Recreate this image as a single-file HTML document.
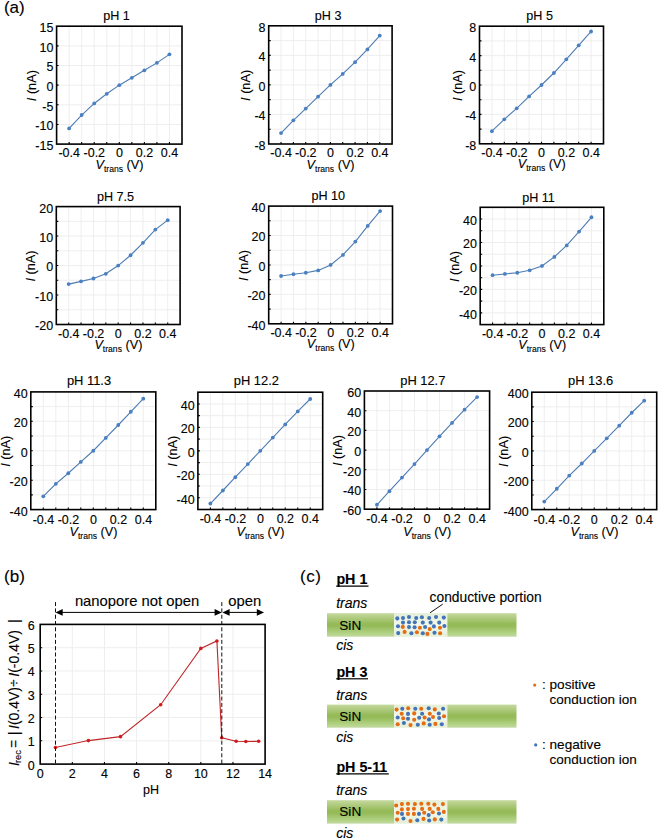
<!DOCTYPE html><html><head><meta charset="utf-8"><style>html,body{margin:0;padding:0;background:#fff;}svg{display:block;}text{font-family:"Liberation Sans", sans-serif;fill:#000;stroke:#000;stroke-width:0.12px;}</style></head><body>
<svg width="658" height="838" viewBox="0 0 658 838">
<rect width="658" height="838" fill="#fff"/>
<text x="3.9" y="12.8" font-size="17">(a)</text>
<path d="M69.14 26.2V144.1M81.68 26.2V144.1M94.22 26.2V144.1M106.76 26.2V144.1M119.3 26.2V144.1M131.84 26.2V144.1M144.38 26.2V144.1M156.92 26.2V144.1M169.46 26.2V144.1M56.6 124.45H182M56.6 104.8H182M56.6 85.15H182M56.6 65.5H182M56.6 45.85H182" stroke="#ececec" stroke-width="0.9" fill="none"/>
<path d="M69.14 144.1v-2M81.68 144.1v-2M94.22 144.1v-2M106.76 144.1v-2M119.3 144.1v-2M131.84 144.1v-2M144.38 144.1v-2M156.92 144.1v-2M169.46 144.1v-2M56.6 124.45h2M56.6 104.8h2M56.6 85.15h2M56.6 65.5h2M56.6 45.85h2" stroke="#000" stroke-width="1.1" fill="none"/>
<polyline points="69.14,128.38 81.68,115.02 94.22,103.46 106.76,93.8 119.3,85.15 131.84,77.84 144.38,70.33 156.92,62.87 169.46,54.34" stroke="#4d7cb3" stroke-width="1.1" fill="none"/>
<circle cx="69.14" cy="128.38" r="1.9" fill="#4a80c2"/>
<circle cx="81.68" cy="115.02" r="1.9" fill="#4a80c2"/>
<circle cx="94.22" cy="103.46" r="1.9" fill="#4a80c2"/>
<circle cx="106.76" cy="93.8" r="1.9" fill="#4a80c2"/>
<circle cx="119.3" cy="85.15" r="1.9" fill="#4a80c2"/>
<circle cx="131.84" cy="77.84" r="1.9" fill="#4a80c2"/>
<circle cx="144.38" cy="70.33" r="1.9" fill="#4a80c2"/>
<circle cx="156.92" cy="62.87" r="1.9" fill="#4a80c2"/>
<circle cx="169.46" cy="54.34" r="1.9" fill="#4a80c2"/>
<rect x="56.6" y="26.2" width="125.4" height="117.9" fill="none" stroke="#000" stroke-width="1.6"/>
<text x="53.4" y="150" text-anchor="end" font-size="12.5">-15</text>
<text x="53.4" y="130.35" text-anchor="end" font-size="12.5">-10</text>
<text x="53.4" y="110.7" text-anchor="end" font-size="12.5">-5</text>
<text x="53.4" y="91.05" text-anchor="end" font-size="12.5">0</text>
<text x="53.4" y="71.4" text-anchor="end" font-size="12.5">5</text>
<text x="53.4" y="51.75" text-anchor="end" font-size="12.5">10</text>
<text x="53.4" y="32.1" text-anchor="end" font-size="12.5">15</text>
<text x="69.24" y="157.1" text-anchor="middle" font-size="12.5">-0.4</text>
<text x="94.32" y="157.1" text-anchor="middle" font-size="12.5">-0.2</text>
<text x="119.4" y="157.1" text-anchor="middle" font-size="12.5">0</text>
<text x="144.48" y="157.1" text-anchor="middle" font-size="12.5">0.2</text>
<text x="169.56" y="157.1" text-anchor="middle" font-size="12.5">0.4</text>
<text x="116.5" y="20.2" text-anchor="middle" font-size="12.6">pH 1</text>
<text x="119.5" y="168.7" text-anchor="middle" font-size="12.7"><tspan font-style="italic">V</tspan><tspan font-size="8.6" dy="3">trans</tspan><tspan dy="-3"> (V)</tspan></text>
<text transform="translate(35.5 85.65) rotate(-90)" text-anchor="middle" font-size="12.7"><tspan font-style="italic">I</tspan> (nA)</text>
<path d="M281.04 25.8V144M293.38 25.8V144M305.72 25.8V144M318.06 25.8V144M330.4 25.8V144M342.74 25.8V144M355.08 25.8V144M367.42 25.8V144M379.76 25.8V144M268.7 129.22H392.1M268.7 114.45H392.1M268.7 99.67H392.1M268.7 84.9H392.1M268.7 70.12H392.1M268.7 55.35H392.1M268.7 40.58H392.1" stroke="#ececec" stroke-width="0.9" fill="none"/>
<path d="M281.04 144v-2M293.38 144v-2M305.72 144v-2M318.06 144v-2M330.4 144v-2M342.74 144v-2M355.08 144v-2M367.42 144v-2M379.76 144v-2M268.7 129.22h2M268.7 114.45h2M268.7 99.67h2M268.7 84.9h2M268.7 70.12h2M268.7 55.35h2M268.7 40.58h2" stroke="#000" stroke-width="1.1" fill="none"/>
<polyline points="281.04,133.07 293.38,120.36 305.72,108.54 318.06,96.72 330.4,84.9 342.74,73.89 355.08,62.22 367.42,49.44 379.76,35.55" stroke="#4d7cb3" stroke-width="1.1" fill="none"/>
<circle cx="281.04" cy="133.07" r="1.9" fill="#4a80c2"/>
<circle cx="293.38" cy="120.36" r="1.9" fill="#4a80c2"/>
<circle cx="305.72" cy="108.54" r="1.9" fill="#4a80c2"/>
<circle cx="318.06" cy="96.72" r="1.9" fill="#4a80c2"/>
<circle cx="330.4" cy="84.9" r="1.9" fill="#4a80c2"/>
<circle cx="342.74" cy="73.89" r="1.9" fill="#4a80c2"/>
<circle cx="355.08" cy="62.22" r="1.9" fill="#4a80c2"/>
<circle cx="367.42" cy="49.44" r="1.9" fill="#4a80c2"/>
<circle cx="379.76" cy="35.55" r="1.9" fill="#4a80c2"/>
<rect x="268.7" y="25.8" width="123.4" height="118.2" fill="none" stroke="#000" stroke-width="1.6"/>
<text x="265.5" y="149.9" text-anchor="end" font-size="12.5">-8</text>
<text x="265.5" y="120.35" text-anchor="end" font-size="12.5">-4</text>
<text x="265.5" y="90.8" text-anchor="end" font-size="12.5">0</text>
<text x="265.5" y="61.25" text-anchor="end" font-size="12.5">4</text>
<text x="265.5" y="31.7" text-anchor="end" font-size="12.5">8</text>
<text x="281.14" y="157" text-anchor="middle" font-size="12.5">-0.4</text>
<text x="305.82" y="157" text-anchor="middle" font-size="12.5">-0.2</text>
<text x="330.5" y="157" text-anchor="middle" font-size="12.5">0</text>
<text x="355.18" y="157" text-anchor="middle" font-size="12.5">0.2</text>
<text x="379.86" y="157" text-anchor="middle" font-size="12.5">0.4</text>
<text x="328.1" y="19.8" text-anchor="middle" font-size="12.6">pH 3</text>
<text x="330.6" y="168.6" text-anchor="middle" font-size="12.7"><tspan font-style="italic">V</tspan><tspan font-size="8.6" dy="3">trans</tspan><tspan dy="-3"> (V)</tspan></text>
<text transform="translate(250.1 85.4) rotate(-90)" text-anchor="middle" font-size="12.7"><tspan font-style="italic">I</tspan> (nA)</text>
<path d="M491.9 26.2V143.8M504.3 26.2V143.8M516.7 26.2V143.8M529.1 26.2V143.8M541.5 26.2V143.8M553.9 26.2V143.8M566.3 26.2V143.8M578.7 26.2V143.8M591.1 26.2V143.8M479.5 129.1H603.5M479.5 114.4H603.5M479.5 99.7H603.5M479.5 85H603.5M479.5 70.3H603.5M479.5 55.6H603.5M479.5 40.9H603.5" stroke="#ececec" stroke-width="0.9" fill="none"/>
<path d="M491.9 143.8v-2M504.3 143.8v-2M516.7 143.8v-2M529.1 143.8v-2M541.5 143.8v-2M553.9 143.8v-2M566.3 143.8v-2M578.7 143.8v-2M591.1 143.8v-2M479.5 129.1h2M479.5 114.4h2M479.5 99.7h2M479.5 85h2M479.5 70.3h2M479.5 55.6h2M479.5 40.9h2" stroke="#000" stroke-width="1.1" fill="none"/>
<polyline points="491.9,131.16 504.3,119.32 516.7,108.3 529.1,96.39 541.5,85 553.9,73.02 566.3,59.28 578.7,45.31 591.1,31.49" stroke="#4d7cb3" stroke-width="1.1" fill="none"/>
<circle cx="491.9" cy="131.16" r="1.9" fill="#4a80c2"/>
<circle cx="504.3" cy="119.32" r="1.9" fill="#4a80c2"/>
<circle cx="516.7" cy="108.3" r="1.9" fill="#4a80c2"/>
<circle cx="529.1" cy="96.39" r="1.9" fill="#4a80c2"/>
<circle cx="541.5" cy="85" r="1.9" fill="#4a80c2"/>
<circle cx="553.9" cy="73.02" r="1.9" fill="#4a80c2"/>
<circle cx="566.3" cy="59.28" r="1.9" fill="#4a80c2"/>
<circle cx="578.7" cy="45.31" r="1.9" fill="#4a80c2"/>
<circle cx="591.1" cy="31.49" r="1.9" fill="#4a80c2"/>
<rect x="479.5" y="26.2" width="124" height="117.6" fill="none" stroke="#000" stroke-width="1.6"/>
<text x="476.3" y="149.7" text-anchor="end" font-size="12.5">-8</text>
<text x="476.3" y="120.3" text-anchor="end" font-size="12.5">-4</text>
<text x="476.3" y="90.9" text-anchor="end" font-size="12.5">0</text>
<text x="476.3" y="61.5" text-anchor="end" font-size="12.5">4</text>
<text x="476.3" y="32.1" text-anchor="end" font-size="12.5">8</text>
<text x="492" y="156.8" text-anchor="middle" font-size="12.5">-0.4</text>
<text x="516.8" y="156.8" text-anchor="middle" font-size="12.5">-0.2</text>
<text x="541.6" y="156.8" text-anchor="middle" font-size="12.5">0</text>
<text x="566.4" y="156.8" text-anchor="middle" font-size="12.5">0.2</text>
<text x="591.2" y="156.8" text-anchor="middle" font-size="12.5">0.4</text>
<text x="539.6" y="20.1" text-anchor="middle" font-size="12.6">pH 5</text>
<text x="541.7" y="168.4" text-anchor="middle" font-size="12.7"><tspan font-style="italic">V</tspan><tspan font-size="8.6" dy="3">trans</tspan><tspan dy="-3"> (V)</tspan></text>
<text transform="translate(461.9 85.5) rotate(-90)" text-anchor="middle" font-size="12.7"><tspan font-style="italic">I</tspan> (nA)</text>
<path d="M68.68 206.6V324.5M81.06 206.6V324.5M93.44 206.6V324.5M105.82 206.6V324.5M118.2 206.6V324.5M130.58 206.6V324.5M142.96 206.6V324.5M155.34 206.6V324.5M167.72 206.6V324.5M56.3 309.76H180.1M56.3 295.02H180.1M56.3 280.29H180.1M56.3 265.55H180.1M56.3 250.81H180.1M56.3 236.07H180.1M56.3 221.34H180.1" stroke="#ececec" stroke-width="0.9" fill="none"/>
<path d="M68.68 324.5v-2M81.06 324.5v-2M93.44 324.5v-2M105.82 324.5v-2M118.2 324.5v-2M130.58 324.5v-2M142.96 324.5v-2M155.34 324.5v-2M167.72 324.5v-2M56.3 309.76h2M56.3 295.02h2M56.3 280.29h2M56.3 265.55h2M56.3 250.81h2M56.3 236.07h2M56.3 221.34h2" stroke="#000" stroke-width="1.1" fill="none"/>
<polyline points="68.68,284.12 81.06,281.35 93.44,278.52 105.82,273.8 118.2,265.55 130.58,255.23 142.96,242.85 155.34,229.59 167.72,220.16" stroke="#4d7cb3" stroke-width="1.1" fill="none"/>
<circle cx="68.68" cy="284.12" r="1.9" fill="#4a80c2"/>
<circle cx="81.06" cy="281.35" r="1.9" fill="#4a80c2"/>
<circle cx="93.44" cy="278.52" r="1.9" fill="#4a80c2"/>
<circle cx="105.82" cy="273.8" r="1.9" fill="#4a80c2"/>
<circle cx="118.2" cy="265.55" r="1.9" fill="#4a80c2"/>
<circle cx="130.58" cy="255.23" r="1.9" fill="#4a80c2"/>
<circle cx="142.96" cy="242.85" r="1.9" fill="#4a80c2"/>
<circle cx="155.34" cy="229.59" r="1.9" fill="#4a80c2"/>
<circle cx="167.72" cy="220.16" r="1.9" fill="#4a80c2"/>
<rect x="56.3" y="206.6" width="123.8" height="117.9" fill="none" stroke="#000" stroke-width="1.6"/>
<text x="53.1" y="330.4" text-anchor="end" font-size="12.5">-20</text>
<text x="53.1" y="300.92" text-anchor="end" font-size="12.5">-10</text>
<text x="53.1" y="271.45" text-anchor="end" font-size="12.5">0</text>
<text x="53.1" y="241.97" text-anchor="end" font-size="12.5">10</text>
<text x="53.1" y="212.5" text-anchor="end" font-size="12.5">20</text>
<text x="68.78" y="337.5" text-anchor="middle" font-size="12.5">-0.4</text>
<text x="93.54" y="337.5" text-anchor="middle" font-size="12.5">-0.2</text>
<text x="118.3" y="337.5" text-anchor="middle" font-size="12.5">0</text>
<text x="143.06" y="337.5" text-anchor="middle" font-size="12.5">0.2</text>
<text x="167.82" y="337.5" text-anchor="middle" font-size="12.5">0.4</text>
<text x="115.5" y="201.3" text-anchor="middle" font-size="12.6">pH 7.5</text>
<text x="118.4" y="349.1" text-anchor="middle" font-size="12.7"><tspan font-style="italic">V</tspan><tspan font-size="8.6" dy="3">trans</tspan><tspan dy="-3"> (V)</tspan></text>
<text transform="translate(35.1 266.05) rotate(-90)" text-anchor="middle" font-size="12.7"><tspan font-style="italic">I</tspan> (nA)</text>
<path d="M281.08 206.1V323.8M293.46 206.1V323.8M305.84 206.1V323.8M318.22 206.1V323.8M330.6 206.1V323.8M342.98 206.1V323.8M355.36 206.1V323.8M367.74 206.1V323.8M380.12 206.1V323.8M268.7 309.09H392.5M268.7 294.38H392.5M268.7 279.66H392.5M268.7 264.95H392.5M268.7 250.24H392.5M268.7 235.53H392.5M268.7 220.81H392.5" stroke="#ececec" stroke-width="0.9" fill="none"/>
<path d="M281.08 323.8v-2M293.46 323.8v-2M305.84 323.8v-2M318.22 323.8v-2M330.6 323.8v-2M342.98 323.8v-2M355.36 323.8v-2M367.74 323.8v-2M380.12 323.8v-2M268.7 309.09h2M268.7 294.38h2M268.7 279.66h2M268.7 264.95h2M268.7 250.24h2M268.7 235.53h2M268.7 220.81h2" stroke="#000" stroke-width="1.1" fill="none"/>
<polyline points="281.08,275.98 293.46,274.22 305.84,272.75 318.22,270.39 330.6,264.95 342.98,254.95 355.36,241.56 367.74,225.96 380.12,211.1" stroke="#4d7cb3" stroke-width="1.1" fill="none"/>
<circle cx="281.08" cy="275.98" r="1.9" fill="#4a80c2"/>
<circle cx="293.46" cy="274.22" r="1.9" fill="#4a80c2"/>
<circle cx="305.84" cy="272.75" r="1.9" fill="#4a80c2"/>
<circle cx="318.22" cy="270.39" r="1.9" fill="#4a80c2"/>
<circle cx="330.6" cy="264.95" r="1.9" fill="#4a80c2"/>
<circle cx="342.98" cy="254.95" r="1.9" fill="#4a80c2"/>
<circle cx="355.36" cy="241.56" r="1.9" fill="#4a80c2"/>
<circle cx="367.74" cy="225.96" r="1.9" fill="#4a80c2"/>
<circle cx="380.12" cy="211.1" r="1.9" fill="#4a80c2"/>
<rect x="268.7" y="206.1" width="123.8" height="117.7" fill="none" stroke="#000" stroke-width="1.6"/>
<text x="265.5" y="329.7" text-anchor="end" font-size="12.5">-40</text>
<text x="265.5" y="300.27" text-anchor="end" font-size="12.5">-20</text>
<text x="265.5" y="270.85" text-anchor="end" font-size="12.5">0</text>
<text x="265.5" y="241.43" text-anchor="end" font-size="12.5">20</text>
<text x="265.5" y="212" text-anchor="end" font-size="12.5">40</text>
<text x="281.18" y="336.8" text-anchor="middle" font-size="12.5">-0.4</text>
<text x="305.94" y="336.8" text-anchor="middle" font-size="12.5">-0.2</text>
<text x="330.7" y="336.8" text-anchor="middle" font-size="12.5">0</text>
<text x="355.46" y="336.8" text-anchor="middle" font-size="12.5">0.2</text>
<text x="380.22" y="336.8" text-anchor="middle" font-size="12.5">0.4</text>
<text x="328.3" y="199.8" text-anchor="middle" font-size="12.6">pH 10</text>
<text x="330.8" y="348.4" text-anchor="middle" font-size="12.7"><tspan font-style="italic">V</tspan><tspan font-size="8.6" dy="3">trans</tspan><tspan dy="-3"> (V)</tspan></text>
<text transform="translate(248.1 265.45) rotate(-90)" text-anchor="middle" font-size="12.7"><tspan font-style="italic">I</tspan> (nA)</text>
<path d="M492.56 207.3V324.6M504.92 207.3V324.6M517.28 207.3V324.6M529.64 207.3V324.6M542 207.3V324.6M554.36 207.3V324.6M566.72 207.3V324.6M579.08 207.3V324.6M591.44 207.3V324.6M480.2 312.87H603.8M480.2 301.14H603.8M480.2 289.41H603.8M480.2 277.68H603.8M480.2 265.95H603.8M480.2 254.22H603.8M480.2 242.49H603.8M480.2 230.76H603.8M480.2 219.03H603.8" stroke="#ececec" stroke-width="0.9" fill="none"/>
<path d="M492.56 324.6v-2M504.92 324.6v-2M517.28 324.6v-2M529.64 324.6v-2M542 324.6v-2M554.36 324.6v-2M566.72 324.6v-2M579.08 324.6v-2M591.44 324.6v-2M480.2 312.87h2M480.2 301.14h2M480.2 289.41h2M480.2 277.68h2M480.2 265.95h2M480.2 254.22h2M480.2 242.49h2M480.2 230.76h2M480.2 219.03h2" stroke="#000" stroke-width="1.1" fill="none"/>
<polyline points="492.56,275.22 504.92,273.93 517.28,272.75 529.64,270.29 542,265.95 554.36,256.92 566.72,245.42 579.08,231.58 591.44,217.27" stroke="#4d7cb3" stroke-width="1.1" fill="none"/>
<circle cx="492.56" cy="275.22" r="1.9" fill="#4a80c2"/>
<circle cx="504.92" cy="273.93" r="1.9" fill="#4a80c2"/>
<circle cx="517.28" cy="272.75" r="1.9" fill="#4a80c2"/>
<circle cx="529.64" cy="270.29" r="1.9" fill="#4a80c2"/>
<circle cx="542" cy="265.95" r="1.9" fill="#4a80c2"/>
<circle cx="554.36" cy="256.92" r="1.9" fill="#4a80c2"/>
<circle cx="566.72" cy="245.42" r="1.9" fill="#4a80c2"/>
<circle cx="579.08" cy="231.58" r="1.9" fill="#4a80c2"/>
<circle cx="591.44" cy="217.27" r="1.9" fill="#4a80c2"/>
<rect x="480.2" y="207.3" width="123.6" height="117.3" fill="none" stroke="#000" stroke-width="1.6"/>
<text x="477" y="318.77" text-anchor="end" font-size="12.5">-40</text>
<text x="477" y="295.31" text-anchor="end" font-size="12.5">-20</text>
<text x="477" y="271.85" text-anchor="end" font-size="12.5">0</text>
<text x="477" y="248.39" text-anchor="end" font-size="12.5">20</text>
<text x="477" y="224.93" text-anchor="end" font-size="12.5">40</text>
<text x="492.66" y="337.6" text-anchor="middle" font-size="12.5">-0.4</text>
<text x="517.38" y="337.6" text-anchor="middle" font-size="12.5">-0.2</text>
<text x="542.1" y="337.6" text-anchor="middle" font-size="12.5">0</text>
<text x="566.82" y="337.6" text-anchor="middle" font-size="12.5">0.2</text>
<text x="591.54" y="337.6" text-anchor="middle" font-size="12.5">0.4</text>
<text x="538.5" y="201.9" text-anchor="middle" font-size="12.6">pH 11</text>
<text x="542.2" y="349.2" text-anchor="middle" font-size="12.7"><tspan font-style="italic">V</tspan><tspan font-size="8.6" dy="3">trans</tspan><tspan dy="-3"> (V)</tspan></text>
<text transform="translate(458.9 266.45) rotate(-90)" text-anchor="middle" font-size="12.7"><tspan font-style="italic">I</tspan> (nA)</text>
<path d="M43.3 391.9V509.6M55.8 391.9V509.6M68.3 391.9V509.6M80.8 391.9V509.6M93.3 391.9V509.6M105.8 391.9V509.6M118.3 391.9V509.6M130.8 391.9V509.6M143.3 391.9V509.6M30.8 494.89H155.8M30.8 480.18H155.8M30.8 465.46H155.8M30.8 450.75H155.8M30.8 436.04H155.8M30.8 421.32H155.8M30.8 406.61H155.8" stroke="#ececec" stroke-width="0.9" fill="none"/>
<path d="M43.3 509.6v-2M55.8 509.6v-2M68.3 509.6v-2M80.8 509.6v-2M93.3 509.6v-2M105.8 509.6v-2M118.3 509.6v-2M130.8 509.6v-2M143.3 509.6v-2M30.8 494.89h2M30.8 480.18h2M30.8 465.46h2M30.8 450.75h2M30.8 436.04h2M30.8 421.32h2M30.8 406.61h2" stroke="#000" stroke-width="1.1" fill="none"/>
<polyline points="43.3,496.36 55.8,483.85 68.3,473.26 80.8,461.93 93.3,450.75 105.8,437.95 118.3,425 130.8,411.76 143.3,398.67" stroke="#4d7cb3" stroke-width="1.1" fill="none"/>
<circle cx="43.3" cy="496.36" r="1.9" fill="#4a80c2"/>
<circle cx="55.8" cy="483.85" r="1.9" fill="#4a80c2"/>
<circle cx="68.3" cy="473.26" r="1.9" fill="#4a80c2"/>
<circle cx="80.8" cy="461.93" r="1.9" fill="#4a80c2"/>
<circle cx="93.3" cy="450.75" r="1.9" fill="#4a80c2"/>
<circle cx="105.8" cy="437.95" r="1.9" fill="#4a80c2"/>
<circle cx="118.3" cy="425" r="1.9" fill="#4a80c2"/>
<circle cx="130.8" cy="411.76" r="1.9" fill="#4a80c2"/>
<circle cx="143.3" cy="398.67" r="1.9" fill="#4a80c2"/>
<rect x="30.8" y="391.9" width="125" height="117.7" fill="none" stroke="#000" stroke-width="1.6"/>
<text x="27.6" y="515.5" text-anchor="end" font-size="12.5">-40</text>
<text x="27.6" y="486.07" text-anchor="end" font-size="12.5">-20</text>
<text x="27.6" y="456.65" text-anchor="end" font-size="12.5">0</text>
<text x="27.6" y="427.22" text-anchor="end" font-size="12.5">20</text>
<text x="27.6" y="397.8" text-anchor="end" font-size="12.5">40</text>
<text x="43.4" y="523.5" text-anchor="middle" font-size="12.5">-0.4</text>
<text x="68.4" y="523.5" text-anchor="middle" font-size="12.5">-0.2</text>
<text x="93.4" y="523.5" text-anchor="middle" font-size="12.5">0</text>
<text x="118.4" y="523.5" text-anchor="middle" font-size="12.5">0.2</text>
<text x="143.4" y="523.5" text-anchor="middle" font-size="12.5">0.4</text>
<text x="89" y="384.9" text-anchor="middle" font-size="12.9">pH 11.3</text>
<text x="93.5" y="535.9" text-anchor="middle" font-size="12.7"><tspan font-style="italic">V</tspan><tspan font-size="8.6" dy="3">trans</tspan><tspan dy="-3"> (V)</tspan></text>
<text transform="translate(9.6 451.25) rotate(-90)" text-anchor="middle" font-size="12.7"><tspan font-style="italic">I</tspan> (nA)</text>
<path d="M210.38 392.2V509.5M222.86 392.2V509.5M235.34 392.2V509.5M247.82 392.2V509.5M260.3 392.2V509.5M272.78 392.2V509.5M285.26 392.2V509.5M297.74 392.2V509.5M310.22 392.2V509.5M197.9 497.77H322.7M197.9 486.04H322.7M197.9 474.31H322.7M197.9 462.58H322.7M197.9 450.85H322.7M197.9 439.12H322.7M197.9 427.39H322.7M197.9 415.66H322.7M197.9 403.93H322.7" stroke="#ececec" stroke-width="0.9" fill="none"/>
<path d="M210.38 509.5v-2M222.86 509.5v-2M235.34 509.5v-2M247.82 509.5v-2M260.3 509.5v-2M272.78 509.5v-2M285.26 509.5v-2M297.74 509.5v-2M310.22 509.5v-2M197.9 497.77h2M197.9 486.04h2M197.9 474.31h2M197.9 462.58h2M197.9 450.85h2M197.9 439.12h2M197.9 427.39h2M197.9 415.66h2M197.9 403.93h2" stroke="#000" stroke-width="1.1" fill="none"/>
<polyline points="210.38,503.52 222.86,490.5 235.34,477.24 247.82,464.1 260.3,450.85 272.78,437.6 285.26,424.46 297.74,411.44 310.22,399" stroke="#4d7cb3" stroke-width="1.1" fill="none"/>
<circle cx="210.38" cy="503.52" r="1.9" fill="#4a80c2"/>
<circle cx="222.86" cy="490.5" r="1.9" fill="#4a80c2"/>
<circle cx="235.34" cy="477.24" r="1.9" fill="#4a80c2"/>
<circle cx="247.82" cy="464.1" r="1.9" fill="#4a80c2"/>
<circle cx="260.3" cy="450.85" r="1.9" fill="#4a80c2"/>
<circle cx="272.78" cy="437.6" r="1.9" fill="#4a80c2"/>
<circle cx="285.26" cy="424.46" r="1.9" fill="#4a80c2"/>
<circle cx="297.74" cy="411.44" r="1.9" fill="#4a80c2"/>
<circle cx="310.22" cy="399" r="1.9" fill="#4a80c2"/>
<rect x="197.9" y="392.2" width="124.8" height="117.3" fill="none" stroke="#000" stroke-width="1.6"/>
<text x="194.7" y="503.67" text-anchor="end" font-size="12.5">-40</text>
<text x="194.7" y="480.21" text-anchor="end" font-size="12.5">-20</text>
<text x="194.7" y="456.75" text-anchor="end" font-size="12.5">0</text>
<text x="194.7" y="433.29" text-anchor="end" font-size="12.5">20</text>
<text x="194.7" y="409.83" text-anchor="end" font-size="12.5">40</text>
<text x="210.48" y="523.4" text-anchor="middle" font-size="12.5">-0.4</text>
<text x="235.44" y="523.4" text-anchor="middle" font-size="12.5">-0.2</text>
<text x="260.4" y="523.4" text-anchor="middle" font-size="12.5">0</text>
<text x="285.36" y="523.4" text-anchor="middle" font-size="12.5">0.2</text>
<text x="310.32" y="523.4" text-anchor="middle" font-size="12.5">0.4</text>
<text x="256.4" y="384.9" text-anchor="middle" font-size="12.9">pH 12.2</text>
<text x="260.5" y="535.8" text-anchor="middle" font-size="12.7"><tspan font-style="italic">V</tspan><tspan font-size="8.6" dy="3">trans</tspan><tspan dy="-3"> (V)</tspan></text>
<text transform="translate(176.5 451.35) rotate(-90)" text-anchor="middle" font-size="12.7"><tspan font-style="italic">I</tspan> (nA)</text>
<path d="M376.92 391V509.2M389.44 391V509.2M401.96 391V509.2M414.48 391V509.2M427 391V509.2M439.52 391V509.2M452.04 391V509.2M464.56 391V509.2M477.08 391V509.2M364.4 489.5H489.6M364.4 469.8H489.6M364.4 450.1H489.6M364.4 430.4H489.6M364.4 410.7H489.6" stroke="#ececec" stroke-width="0.9" fill="none"/>
<path d="M376.92 509.2v-2M389.44 509.2v-2M401.96 509.2v-2M414.48 509.2v-2M427 509.2v-2M439.52 509.2v-2M452.04 509.2v-2M464.56 509.2v-2M477.08 509.2v-2M364.4 489.5h2M364.4 469.8h2M364.4 450.1h2M364.4 430.4h2M364.4 410.7h2" stroke="#000" stroke-width="1.1" fill="none"/>
<polyline points="376.92,504.77 389.44,491.17 401.96,477.58 414.48,464.09 427,450.1 439.52,436.31 452.04,422.91 464.56,409.72 477.08,397.11" stroke="#4d7cb3" stroke-width="1.1" fill="none"/>
<circle cx="376.92" cy="504.77" r="1.9" fill="#4a80c2"/>
<circle cx="389.44" cy="491.17" r="1.9" fill="#4a80c2"/>
<circle cx="401.96" cy="477.58" r="1.9" fill="#4a80c2"/>
<circle cx="414.48" cy="464.09" r="1.9" fill="#4a80c2"/>
<circle cx="427" cy="450.1" r="1.9" fill="#4a80c2"/>
<circle cx="439.52" cy="436.31" r="1.9" fill="#4a80c2"/>
<circle cx="452.04" cy="422.91" r="1.9" fill="#4a80c2"/>
<circle cx="464.56" cy="409.72" r="1.9" fill="#4a80c2"/>
<circle cx="477.08" cy="397.11" r="1.9" fill="#4a80c2"/>
<rect x="364.4" y="391" width="125.2" height="118.2" fill="none" stroke="#000" stroke-width="1.6"/>
<text x="361.2" y="515.1" text-anchor="end" font-size="12.5">-60</text>
<text x="361.2" y="495.4" text-anchor="end" font-size="12.5">-40</text>
<text x="361.2" y="475.7" text-anchor="end" font-size="12.5">-20</text>
<text x="361.2" y="456" text-anchor="end" font-size="12.5">0</text>
<text x="361.2" y="436.3" text-anchor="end" font-size="12.5">20</text>
<text x="361.2" y="416.6" text-anchor="end" font-size="12.5">40</text>
<text x="361.2" y="396.9" text-anchor="end" font-size="12.5">60</text>
<text x="377.02" y="523.1" text-anchor="middle" font-size="12.5">-0.4</text>
<text x="402.06" y="523.1" text-anchor="middle" font-size="12.5">-0.2</text>
<text x="427.1" y="523.1" text-anchor="middle" font-size="12.5">0</text>
<text x="452.14" y="523.1" text-anchor="middle" font-size="12.5">0.2</text>
<text x="477.18" y="523.1" text-anchor="middle" font-size="12.5">0.4</text>
<text x="422.8" y="385" text-anchor="middle" font-size="12.9">pH 12.7</text>
<text x="427.2" y="535.5" text-anchor="middle" font-size="12.7"><tspan font-style="italic">V</tspan><tspan font-size="8.6" dy="3">trans</tspan><tspan dy="-3"> (V)</tspan></text>
<text transform="translate(341.5 450.6) rotate(-90)" text-anchor="middle" font-size="12.7"><tspan font-style="italic">I</tspan> (nA)</text>
<path d="M544.29 392.2V509.6M556.78 392.2V509.6M569.27 392.2V509.6M581.76 392.2V509.6M594.25 392.2V509.6M606.74 392.2V509.6M619.23 392.2V509.6M631.72 392.2V509.6M644.21 392.2V509.6M531.8 494.93H656.7M531.8 480.25H656.7M531.8 465.57H656.7M531.8 450.9H656.7M531.8 436.23H656.7M531.8 421.55H656.7M531.8 406.88H656.7" stroke="#ececec" stroke-width="0.9" fill="none"/>
<path d="M544.29 509.6v-2M556.78 509.6v-2M569.27 509.6v-2M581.76 509.6v-2M594.25 509.6v-2M606.74 509.6v-2M619.23 509.6v-2M631.72 509.6v-2M644.21 509.6v-2M531.8 494.93h2M531.8 480.25h2M531.8 465.57h2M531.8 450.9h2M531.8 436.23h2M531.8 421.55h2M531.8 406.88h2" stroke="#000" stroke-width="1.1" fill="none"/>
<polyline points="544.29,501.53 556.78,488.76 569.27,475.55 581.76,463.52 594.25,450.9 606.74,438.28 619.23,425.66 631.72,412.75 644.21,400.71" stroke="#4d7cb3" stroke-width="1.1" fill="none"/>
<circle cx="544.29" cy="501.53" r="1.9" fill="#4a80c2"/>
<circle cx="556.78" cy="488.76" r="1.9" fill="#4a80c2"/>
<circle cx="569.27" cy="475.55" r="1.9" fill="#4a80c2"/>
<circle cx="581.76" cy="463.52" r="1.9" fill="#4a80c2"/>
<circle cx="594.25" cy="450.9" r="1.9" fill="#4a80c2"/>
<circle cx="606.74" cy="438.28" r="1.9" fill="#4a80c2"/>
<circle cx="619.23" cy="425.66" r="1.9" fill="#4a80c2"/>
<circle cx="631.72" cy="412.75" r="1.9" fill="#4a80c2"/>
<circle cx="644.21" cy="400.71" r="1.9" fill="#4a80c2"/>
<rect x="531.8" y="392.2" width="124.9" height="117.4" fill="none" stroke="#000" stroke-width="1.6"/>
<text x="528.6" y="515.5" text-anchor="end" font-size="12.5">-400</text>
<text x="528.6" y="486.15" text-anchor="end" font-size="12.5">-200</text>
<text x="528.6" y="456.8" text-anchor="end" font-size="12.5">0</text>
<text x="528.6" y="427.45" text-anchor="end" font-size="12.5">200</text>
<text x="528.6" y="398.1" text-anchor="end" font-size="12.5">400</text>
<text x="544.39" y="523.5" text-anchor="middle" font-size="12.5">-0.4</text>
<text x="569.37" y="523.5" text-anchor="middle" font-size="12.5">-0.2</text>
<text x="594.35" y="523.5" text-anchor="middle" font-size="12.5">0</text>
<text x="619.33" y="523.5" text-anchor="middle" font-size="12.5">0.2</text>
<text x="644.31" y="523.5" text-anchor="middle" font-size="12.5">0.4</text>
<text x="590.6" y="384.9" text-anchor="middle" font-size="12.9">pH 13.6</text>
<text x="594.45" y="535.9" text-anchor="middle" font-size="12.7"><tspan font-style="italic">V</tspan><tspan font-size="8.6" dy="3">trans</tspan><tspan dy="-3"> (V)</tspan></text>
<text transform="translate(508 451.4) rotate(-90)" text-anchor="middle" font-size="12.7"><tspan font-style="italic">I</tspan> (nA)</text>
<text x="4.1" y="581.6" font-size="17">(b)</text>
<path d="M72.33 624.4V764.1M104.46 624.4V764.1M136.59 624.4V764.1M168.71 624.4V764.1M200.84 624.4V764.1M232.97 624.4V764.1M40.2 740.82H265.1M40.2 717.53H265.1M40.2 694.25H265.1M40.2 670.97H265.1M40.2 647.68H265.1" stroke="#ececec" stroke-width="0.9" fill="none"/>
<path d="M72.33 764.1v-2M104.46 764.1v-2M136.59 764.1v-2M168.71 764.1v-2M200.84 764.1v-2M232.97 764.1v-2M40.2 740.82h2M40.2 717.53h2M40.2 694.25h2M40.2 670.97h2M40.2 647.68h2" stroke="#000" stroke-width="1.1" fill="none"/>
<polyline points="55.46,747.57 88.39,740.58 120.52,736.63 160.68,704.73 200.84,648.38 216.91,640.93 221.73,737.79 236.18,741.28 245.82,741.52 258.67,741.28" stroke="#c0262a" stroke-width="1.1" fill="none"/>
<circle cx="55.46" cy="747.57" r="1.8" fill="#d01c1c"/>
<circle cx="88.39" cy="740.58" r="1.8" fill="#d01c1c"/>
<circle cx="120.52" cy="736.63" r="1.8" fill="#d01c1c"/>
<circle cx="160.68" cy="704.73" r="1.8" fill="#d01c1c"/>
<circle cx="200.84" cy="648.38" r="1.8" fill="#d01c1c"/>
<circle cx="216.91" cy="640.93" r="1.8" fill="#d01c1c"/>
<circle cx="221.73" cy="737.79" r="1.8" fill="#d01c1c"/>
<circle cx="236.18" cy="741.28" r="1.8" fill="#d01c1c"/>
<circle cx="245.82" cy="741.52" r="1.8" fill="#d01c1c"/>
<circle cx="258.67" cy="741.28" r="1.8" fill="#d01c1c"/>
<rect x="40.2" y="624.4" width="224.9" height="139.7" fill="none" stroke="#000" stroke-width="1.6"/>
<path d="M55.5 602.1V764" stroke="#111" stroke-width="1" stroke-dasharray="4 2.3" fill="none"/>
<path d="M221.8 602.1V764" stroke="#111" stroke-width="1" stroke-dasharray="4 2.3" fill="none"/>
<path d="M60.5 612.4H216.8 M226.8 612.4H259" stroke="#000" stroke-width="1" fill="none"/>
<path d="M55.5 612.4L62.7 609.1L62.7 615.7Z" fill="#000"/>
<path d="M221.8 612.4L214.6 609.1L214.6 615.7Z" fill="#000"/>
<path d="M222.4 612.4L229.6 609.1L229.6 615.7Z" fill="#000"/>
<path d="M264 612.4L256.8 609.1L256.8 615.7Z" fill="#000"/>
<text x="74.9" y="605.5" font-size="14.8">nanopore not open</text>
<text x="228.3" y="605.8" font-size="14.8">open</text>
<text x="34.7" y="769.5" text-anchor="end" font-size="12.5">0</text>
<text x="34.7" y="746.22" text-anchor="end" font-size="12.5">1</text>
<text x="34.7" y="722.93" text-anchor="end" font-size="12.5">2</text>
<text x="34.7" y="699.65" text-anchor="end" font-size="12.5">3</text>
<text x="34.7" y="676.37" text-anchor="end" font-size="12.5">4</text>
<text x="34.7" y="653.08" text-anchor="end" font-size="12.5">5</text>
<text x="34.7" y="629.8" text-anchor="end" font-size="12.5">6</text>
<text x="40.2" y="777.8" text-anchor="middle" font-size="12.5">0</text>
<text x="72.33" y="777.8" text-anchor="middle" font-size="12.5">2</text>
<text x="104.46" y="777.8" text-anchor="middle" font-size="12.5">4</text>
<text x="136.59" y="777.8" text-anchor="middle" font-size="12.5">6</text>
<text x="168.71" y="777.8" text-anchor="middle" font-size="12.5">8</text>
<text x="200.84" y="777.8" text-anchor="middle" font-size="12.5">10</text>
<text x="232.97" y="777.8" text-anchor="middle" font-size="12.5">12</text>
<text x="265.1" y="777.8" text-anchor="middle" font-size="12.5">14</text>
<text x="151" y="793.9" text-anchor="middle" font-size="12.5">pH</text>
<g transform="translate(18.8 766) rotate(-90)" font-size="14"><text x="0" font-style="italic">I</text><text x="2.9" y="1.9" font-size="9.3">rec</text><text x="17.9">=</text><text x="30.8">|</text><text x="37"><tspan font-style="italic">I</tspan>(0.4V)÷</text><text x="89.3"><tspan font-style="italic">I</tspan>(-0.4V)</text><text x="143">|</text></g>
<text x="300" y="582" font-size="17" letter-spacing="0.6">(c)</text>
<defs>
<linearGradient id="gg" x1="0" y1="0" x2="0" y2="1">
<stop offset="0" stop-color="#c5d99f"/><stop offset="0.45" stop-color="#95ba58"/><stop offset="0.55" stop-color="#95ba58"/><stop offset="0.9" stop-color="#b7d68c"/><stop offset="1" stop-color="#c3d7a4"/>
</linearGradient>
<linearGradient id="gc" x1="0" y1="0" x2="0" y2="1">
<stop offset="0" stop-color="#e4eed6"/><stop offset="0.5" stop-color="#f3f8ea"/><stop offset="1" stop-color="#e4eed6"/>
</linearGradient>
</defs>
<text x="336.4" y="584.4" font-size="14.3" font-weight="bold">pH 1</text>
<path d="M336.2 586.2h32.3" stroke="#000" stroke-width="1.2"/>
<text x="336.2" y="607.6" font-size="14" font-style="italic">trans</text>
<rect x="327" y="613.2" width="67" height="23.5" fill="url(#gg)"/>
<rect x="447.2" y="613.2" width="69.3" height="23.5" fill="url(#gg)"/>
<rect x="394" y="613.2" width="53.2" height="23.5" fill="url(#gc)"/>
<text x="339.3" y="629.8" font-size="13.6">SiN</text>
<text x="336.2" y="649.7" font-size="14" font-style="italic">cis</text>
<circle cx="397.3" cy="618.4" r="2.05" fill="#4374b8"/>
<circle cx="403" cy="618" r="2.05" fill="#4374b8"/>
<circle cx="409" cy="617" r="2.05" fill="#4374b8"/>
<circle cx="416.2" cy="618" r="2.05" fill="#4374b8"/>
<circle cx="421.9" cy="617.3" r="2.05" fill="#4374b8"/>
<circle cx="429.2" cy="618" r="2.05" fill="#4374b8"/>
<circle cx="436" cy="617" r="2.05" fill="#4374b8"/>
<circle cx="443.8" cy="617.6" r="2.05" fill="#4374b8"/>
<circle cx="403" cy="622.6" r="2.05" fill="#4374b8"/>
<circle cx="409" cy="622.3" r="2.05" fill="#4374b8"/>
<circle cx="414.8" cy="622.3" r="2.05" fill="#4374b8"/>
<circle cx="422.8" cy="622.6" r="2.05" fill="#4374b8"/>
<circle cx="430.6" cy="622.6" r="2.05" fill="#4374b8"/>
<circle cx="439.2" cy="622.6" r="2.05" fill="#4374b8"/>
<circle cx="398" cy="626.2" r="2.05" fill="#4374b8"/>
<circle cx="409" cy="627.1" r="2.05" fill="#4374b8"/>
<circle cx="414.6" cy="627.3" r="2.05" fill="#4374b8"/>
<circle cx="425.1" cy="627" r="2.05" fill="#4374b8"/>
<circle cx="433.9" cy="626.4" r="2.05" fill="#4374b8"/>
<circle cx="444.4" cy="626" r="2.05" fill="#4374b8"/>
<circle cx="398.2" cy="633.1" r="2.05" fill="#4374b8"/>
<circle cx="411.4" cy="633.3" r="2.05" fill="#4374b8"/>
<circle cx="422.8" cy="633.2" r="2.05" fill="#4374b8"/>
<circle cx="434.5" cy="632.8" r="2.05" fill="#4374b8"/>
<circle cx="402.8" cy="626.9" r="2.05" fill="#e56d12"/>
<circle cx="404.6" cy="631.9" r="2.05" fill="#e56d12"/>
<circle cx="416.9" cy="632.3" r="2.05" fill="#e56d12"/>
<circle cx="419.9" cy="627.8" r="2.05" fill="#e56d12"/>
<circle cx="427.4" cy="633.9" r="2.05" fill="#e56d12"/>
<circle cx="429.7" cy="629.1" r="2.05" fill="#e56d12"/>
<circle cx="440" cy="627.8" r="2.05" fill="#e56d12"/>
<circle cx="440.1" cy="633.2" r="2.05" fill="#e56d12"/>
<text x="336.4" y="676.7" font-size="14.3" font-weight="bold">pH 3</text>
<path d="M336.2 678.8h31.8" stroke="#000" stroke-width="1.2"/>
<text x="336.2" y="699.5" font-size="14" font-style="italic">trans</text>
<rect x="327" y="704.6" width="67" height="23.1" fill="url(#gg)"/>
<rect x="447.2" y="704.6" width="69.3" height="23.1" fill="url(#gg)"/>
<rect x="394" y="704.6" width="53.2" height="23.1" fill="url(#gc)"/>
<text x="339.3" y="721.1" font-size="13.6">SiN</text>
<text x="336.2" y="741.7" font-size="14" font-style="italic">cis</text>
<circle cx="396.6" cy="709.6" r="2.05" fill="#e56d12"/>
<circle cx="402.3" cy="708.8" r="2.05" fill="#4374b8"/>
<circle cx="408.2" cy="708.2" r="2.05" fill="#e56d12"/>
<circle cx="415.3" cy="708.7" r="2.05" fill="#4374b8"/>
<circle cx="421.2" cy="708.7" r="2.05" fill="#e56d12"/>
<circle cx="428.7" cy="708.2" r="2.05" fill="#4374b8"/>
<circle cx="434.8" cy="709.4" r="2.05" fill="#e56d12"/>
<circle cx="443.1" cy="708.8" r="2.05" fill="#4374b8"/>
<circle cx="401.7" cy="713.7" r="2.05" fill="#e56d12"/>
<circle cx="408" cy="713.9" r="2.05" fill="#4374b8"/>
<circle cx="414.2" cy="713.4" r="2.05" fill="#e56d12"/>
<circle cx="422.1" cy="713.7" r="2.05" fill="#4374b8"/>
<circle cx="429.8" cy="713.7" r="2.05" fill="#e56d12"/>
<circle cx="438.8" cy="713.5" r="2.05" fill="#4374b8"/>
<circle cx="444" cy="716.2" r="2.05" fill="#e56d12"/>
<circle cx="397.7" cy="717.5" r="2.05" fill="#4374b8"/>
<circle cx="403.2" cy="718.2" r="2.05" fill="#e56d12"/>
<circle cx="408" cy="718.7" r="2.05" fill="#4374b8"/>
<circle cx="414.2" cy="719.8" r="2.05" fill="#e56d12"/>
<circle cx="419.2" cy="717.8" r="2.05" fill="#4374b8"/>
<circle cx="424.6" cy="717.5" r="2.05" fill="#e56d12"/>
<circle cx="429" cy="719.4" r="2.05" fill="#4374b8"/>
<circle cx="433" cy="717" r="2.05" fill="#e56d12"/>
<circle cx="439.2" cy="718" r="2.05" fill="#4374b8"/>
<circle cx="397.7" cy="724.2" r="2.05" fill="#e56d12"/>
<circle cx="403.9" cy="723" r="2.05" fill="#4374b8"/>
<circle cx="410.5" cy="725.1" r="2.05" fill="#e56d12"/>
<circle cx="417.8" cy="724.8" r="2.05" fill="#4374b8"/>
<circle cx="423.7" cy="723.4" r="2.05" fill="#e56d12"/>
<circle cx="429.7" cy="724.8" r="2.05" fill="#4374b8"/>
<circle cx="435.4" cy="723.9" r="2.05" fill="#e56d12"/>
<circle cx="441.8" cy="724.2" r="2.05" fill="#4374b8"/>
<text x="336.4" y="771.5" font-size="14.3" font-weight="bold">pH 5-11</text>
<path d="M336.2 773.8h52.6" stroke="#000" stroke-width="1.2"/>
<text x="336.2" y="794.6" font-size="14" font-style="italic">trans</text>
<rect x="327" y="800.2" width="67" height="23.4" fill="url(#gg)"/>
<rect x="447.2" y="800.2" width="69.3" height="23.4" fill="url(#gg)"/>
<rect x="394" y="800.2" width="53.2" height="23.4" fill="url(#gc)"/>
<text x="339.3" y="816.2" font-size="13.6">SiN</text>
<text x="336.2" y="837.6" font-size="14" font-style="italic">cis</text>
<circle cx="396.2" cy="805.5" r="2.05" fill="#e56d12"/>
<circle cx="401.9" cy="804.1" r="2.05" fill="#e56d12"/>
<circle cx="408" cy="803.7" r="2.05" fill="#e56d12"/>
<circle cx="414.9" cy="804.1" r="2.05" fill="#e56d12"/>
<circle cx="421.3" cy="803.8" r="2.05" fill="#e56d12"/>
<circle cx="428.3" cy="803.7" r="2.05" fill="#e56d12"/>
<circle cx="434.4" cy="804.6" r="2.05" fill="#e56d12"/>
<circle cx="442.9" cy="804.1" r="2.05" fill="#e56d12"/>
<circle cx="401.9" cy="809.4" r="2.05" fill="#e56d12"/>
<circle cx="408" cy="809.1" r="2.05" fill="#e56d12"/>
<circle cx="413.9" cy="808.7" r="2.05" fill="#e56d12"/>
<circle cx="422.1" cy="808.9" r="2.05" fill="#e56d12"/>
<circle cx="429.7" cy="808.9" r="2.05" fill="#e56d12"/>
<circle cx="438.3" cy="808.9" r="2.05" fill="#e56d12"/>
<circle cx="443.8" cy="811.9" r="2.05" fill="#e56d12"/>
<circle cx="397.7" cy="812.8" r="2.05" fill="#e56d12"/>
<circle cx="402" cy="813.9" r="2.05" fill="#4374b8"/>
<circle cx="408" cy="813.9" r="2.05" fill="#e56d12"/>
<circle cx="413.9" cy="813.9" r="2.05" fill="#e56d12"/>
<circle cx="419" cy="813.9" r="2.05" fill="#4374b8"/>
<circle cx="424.2" cy="812.8" r="2.05" fill="#e56d12"/>
<circle cx="428.7" cy="815.1" r="2.05" fill="#4374b8"/>
<circle cx="432.8" cy="812.3" r="2.05" fill="#e56d12"/>
<circle cx="439" cy="813.5" r="2.05" fill="#4374b8"/>
<circle cx="397.1" cy="819.6" r="2.05" fill="#e56d12"/>
<circle cx="403.5" cy="818.5" r="2.05" fill="#4374b8"/>
<circle cx="410.5" cy="821" r="2.05" fill="#e56d12"/>
<circle cx="417.3" cy="820.3" r="2.05" fill="#4374b8"/>
<circle cx="423.5" cy="818.9" r="2.05" fill="#e56d12"/>
<circle cx="429.2" cy="820.5" r="2.05" fill="#4374b8"/>
<circle cx="434.8" cy="819.4" r="2.05" fill="#e56d12"/>
<circle cx="441.3" cy="819.6" r="2.05" fill="#4374b8"/>
<text x="429.6" y="601.8" font-size="13.8">conductive portion</text>
<path d="M430 612.8L442.7 604.2" stroke="#111" stroke-width="1"/>
<circle cx="534.7" cy="685.1" r="1.6" fill="#e56d12"/>
<text x="542" y="689.3" font-size="13.6">: positive</text>
<text x="549.6" y="704.4" font-size="13.5">conduction ion</text>
<circle cx="535.7" cy="744.9" r="1.6" fill="#4374b8"/>
<text x="542" y="748.6" font-size="13.6">: negative</text>
<text x="549.6" y="764.2" font-size="13.5">conduction ion</text>
</svg></body></html>
